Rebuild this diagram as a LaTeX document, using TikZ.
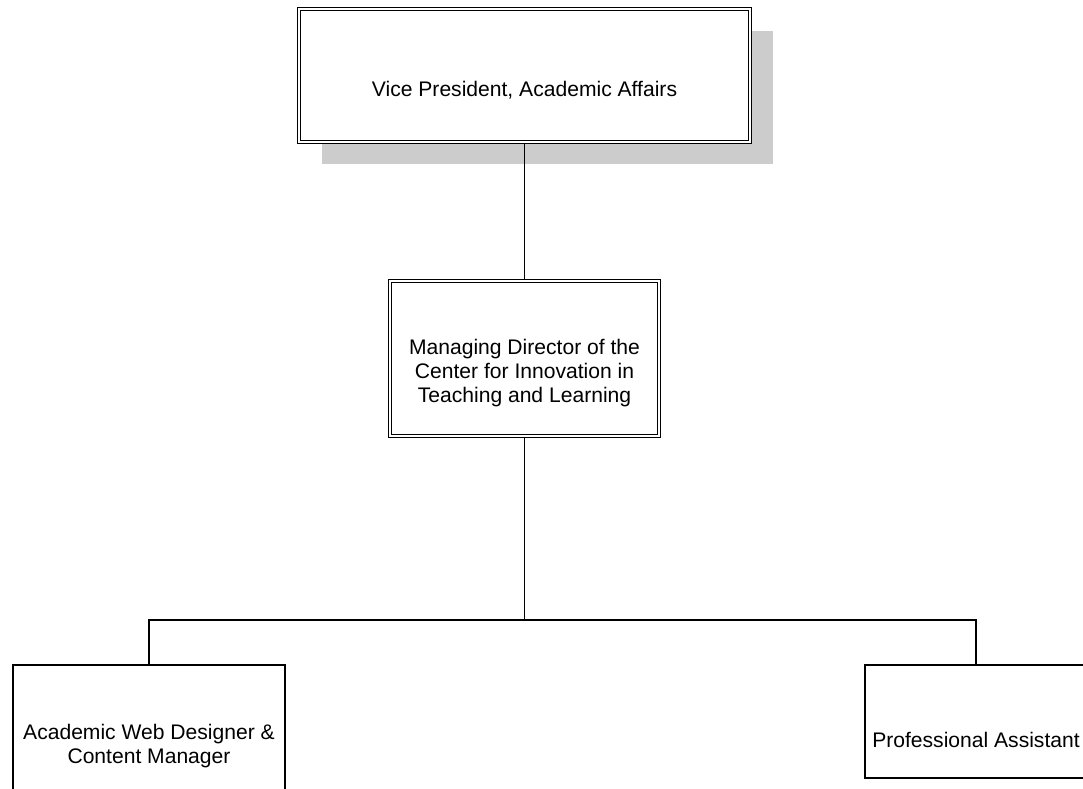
\documentclass[tikz,border=0pt]{standalone}
\usepackage{fontspec}
\setmainfont{Liberation Sans}
\usetikzlibrary{shadows}

\begin{document}
\begin{tikzpicture}[line width=0.7pt,font=\fontsize{12}{13.4}\selectfont]
    \tikzstyle{post}=[rectangle,draw=black,fill=white,inner sep=0pt]
    \tikzstyle{head}=[post,double,double distance=1pt]
    \tikzstyle{title}=[align=center,inner sep=0pt]
    \useasboundingbox (0,0) rectangle (21.66,-15.76);

        % boxes
        \node[head,minimum width=9.02cm,minimum height=2.66cm,
              drop shadow={shadow xshift=0.46cm,shadow yshift=-0.44cm,opacity=1,fill=black!20}]
            (VP) at (10.49,-1.51) {};
        \node[head,minimum width=5.38cm,minimum height=3.10cm] (MD) at (10.49,-7.17) {};
        \node[post,minimum width=5.44cm,minimum height=3.3cm] (AW) at (2.98,-14.95) {};
        \node[post,minimum width=4.44cm,minimum height=2.26cm] (PA) at (19.52,-14.43) {};

        % texts
        \node[title,yshift=-0.29cm] (VP-t) at (VP) {Vice President, Academic Affairs};
        \node[title,yshift=-0.29cm] (MD-t) at (MD)
            {Managing Director of the\\Center for Innovation in\\Teaching and Learning};
        \node[title,yshift=0.03cm] (AW-t) at (AW) {Academic Web Designer \&\\Content Manager};
        \node[title,yshift=-0.37cm] (PA-t) at (PA) {Professional Assistant};

        \coordinate (bus) at (10.49,-12.4);
        \draw (VP) -- (MD);
        \draw (MD) -- (bus);
        \draw (bus) -| (AW);
        \draw (bus) -| (PA);
\end{tikzpicture}
\end{document}
